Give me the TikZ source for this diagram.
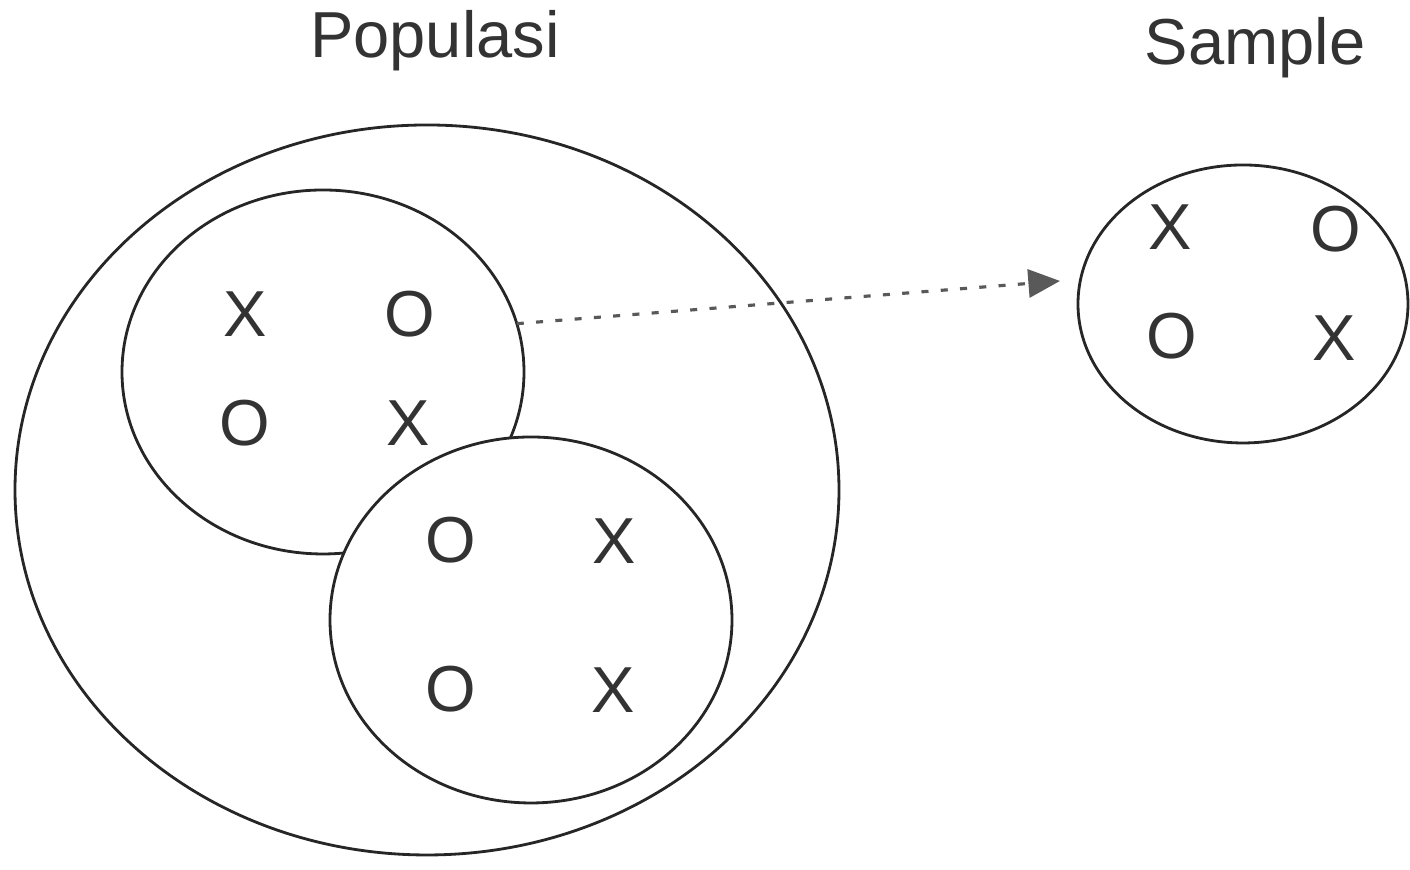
\documentclass[tikz,border=0pt]{standalone}
\usepackage{fontspec}
\setmainfont{Liberation Sans}
\usepackage{tikz}
\usetikzlibrary{shapes.geometric,arrows.meta}

\tikzset{
  lingkar/.style={draw=black!85,line width=0.8pt,ellipse,inner sep=0pt,outer sep=0pt},
  huruf/.style={font=\fontsize{18.5}{22}\selectfont,inner sep=0pt,text=black!80},
}

\begin{document}
\begin{tikzpicture}
\useasboundingbox (0,0) rectangle (14.1,8.7);
\node[huruf,anchor=base] (populasi) at (4.35,8.12){Populasi};
\node[huruf,anchor=base] (sample) at (12.55,8.05){Sample};
\node[lingkar,minimum width=8.24cm,minimum height=7.30cm] (besar) at (4.27,3.80){};
\node[lingkar,minimum width=4.02cm,minimum height=3.64cm] (atas) at (3.23,4.98){};
\node[lingkar,fill=white,minimum width=4.02cm,minimum height=3.66cm] (bawah) at (5.31,2.50){};
\node[lingkar,minimum width=3.30cm,minimum height=2.78cm] (sampel) at (12.43,5.66){};
%\node at (12.43,5.66){};
\node[huruf] (a1) at (2.45,5.56){X};
\node[huruf] (a2) at (4.10,5.56){O};
\node[huruf] (a3) at (2.45,4.47){O};
\node[huruf] (a4) at (4.08,4.47){X};
\node[huruf] (b1) at (4.51,3.30){O};
\node[huruf] (b2) at (6.14,3.29){X};
\node[huruf] (b3) at (4.51,1.81){O};
\node[huruf] (b4) at (6.13,1.80){X};
\node[huruf] (s1) at (11.70,6.43){X};
\node[huruf] (s2) at (13.36,6.41){O};
\node[huruf] (s3) at (11.72,5.34){O};
\node[huruf] (s4) at (13.34,5.32){X};
\coordinate (ujung) at (10.60,5.89);
\draw[black!65,line width=0.9pt,dash pattern=on 2pt off 3.5pt,-{Triangle[length=9pt,width=8pt]}] (atas.14) -- (ujung);
\end{tikzpicture}
\end{document}
